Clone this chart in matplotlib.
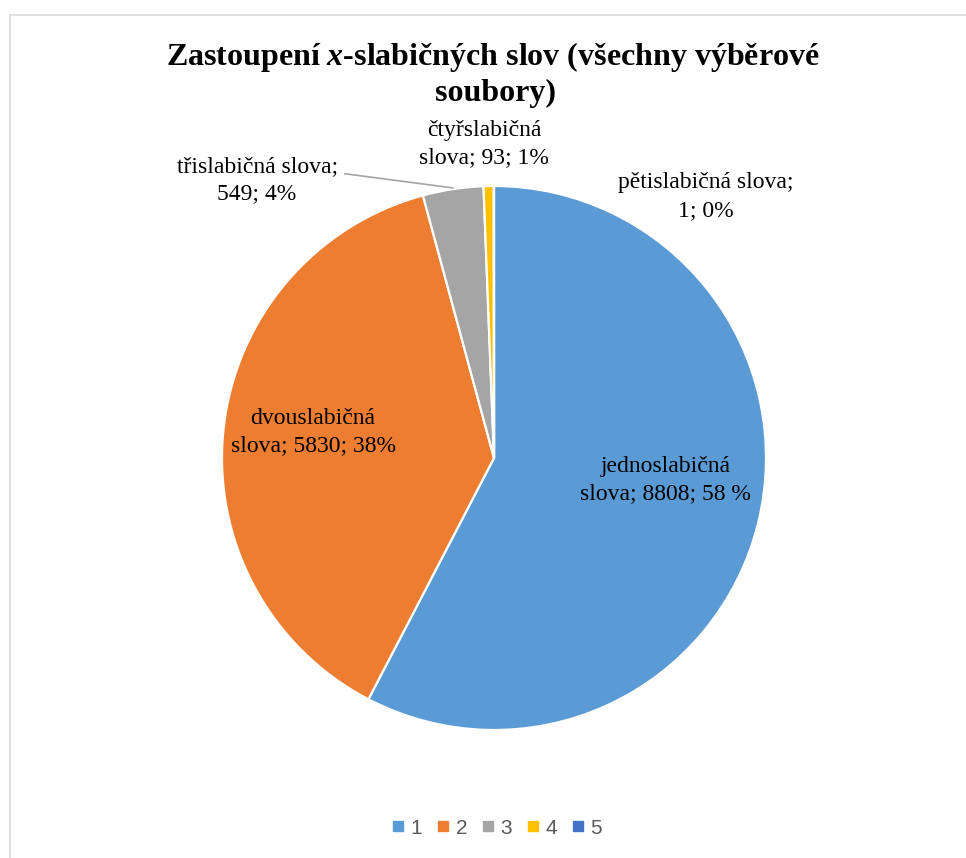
import matplotlib
matplotlib.use("Agg")
import matplotlib.pyplot as plt
from matplotlib.lines import Line2D

plt.rcParams["mathtext.fontset"] = "custom"
plt.rcParams["mathtext.rm"] = "Liberation Serif:bold"
plt.rcParams["mathtext.it"] = "Liberation Serif:italic:bold"

# data
categories = ["1", "2", "3", "4", "5"]
names = ["jednoslabičná slova", "dvouslabičná slova", "třislabičná slova",
         "čtyřslabičná slova", "pětislabičná slova"]
counts = [8808, 5830, 549, 93, 1]
pct_labels = ["58 %", "38%", "4%", "1%", "0%"]
colors = ["#5B9BD5", "#ED7D31", "#A5A5A5", "#FFC000", "#4472C4"]

W, H = 966, 858
CX, CY, R = 494, 458, 272  # pie centre / radius in pixels

fig = plt.figure(figsize=(W / 100, H / 100), dpi=100)
ax = fig.add_axes([0, 0, 1, 1])

wedges, _ = ax.pie(counts, colors=colors, startangle=90, counterclock=False,
                   radius=1, wedgeprops=dict(edgecolor="white", linewidth=1.6))
ax.set_xlim(-CX / R, (W - CX) / R)
ax.set_ylim(-(H - CY) / R, CY / R)
ax.set_aspect("auto")
ax.axis("off")

serif = "Liberation Serif"
lab_kw = dict(fontsize=17, family=serif, color="#000000", ha="center",
              va="center", linespacing=1.4)

# data labels (positions in pie units)
label_text = [
    "jednoslabičná\nslova; %d; %s" % (counts[0], pct_labels[0]),
    "dvouslabičná\nslova; %d; %s" % (counts[1], pct_labels[1]),
    "třislabičná slova;\n%d; %s" % (counts[2], pct_labels[2]),
    "čtyřslabičná\nslova; %d; %s" % (counts[3], pct_labels[3]),
    "pětislabičná slova;\n%d; %s" % (counts[4], pct_labels[4]),
]
label_pos = [(0.632, -0.081), (-0.665, 0.096), (-0.871, 1.022),
             (-0.037, 1.153), (0.779, 0.961)]
for txt, (x, y) in zip(label_text, label_pos):
    ax.text(x, y, txt, **lab_kw)

# leader line for the grey slice
ax.plot([-0.548, -0.151], [1.045, 0.993], color="#A5A5A5", lw=1.2)

# title
fig.text(493 / W, 1 - 65 / H, "Zastoupení $x$-slabičných slov (všechny výběrové",
         family=serif, fontweight="bold", fontsize=23, ha="center",
         va="baseline")
fig.text(495 / W, 1 - 101 / H, "soubory)", family=serif, fontweight="bold",
         fontsize=23, ha="center", va="baseline")

# chart border (only left and top edges visible)
bx, by = 9.5 / W, 1 - 14.5 / H
fig.add_artist(Line2D([bx, bx, 1.0], [0, by, by], transform=fig.transFigure,
                      color="#D9D9D9", lw=1.2))

# legend
handles = [Line2D([], [], marker="s", linestyle="none", markersize=7,
                  markerfacecolor=c, markeredgecolor=c) for c in colors]
leg = fig.legend(handles, categories, loc="center", ncol=5,
                 bbox_to_anchor=(497 / W, (H - 828) / H), frameon=False,
                 handlelength=0.6, handletextpad=0.3, columnspacing=0.7,
                 prop={"family": "Liberation Sans", "size": 15})
for t in leg.get_texts():
    t.set_color("#595959")

fig.savefig("out.png", dpi=100)
